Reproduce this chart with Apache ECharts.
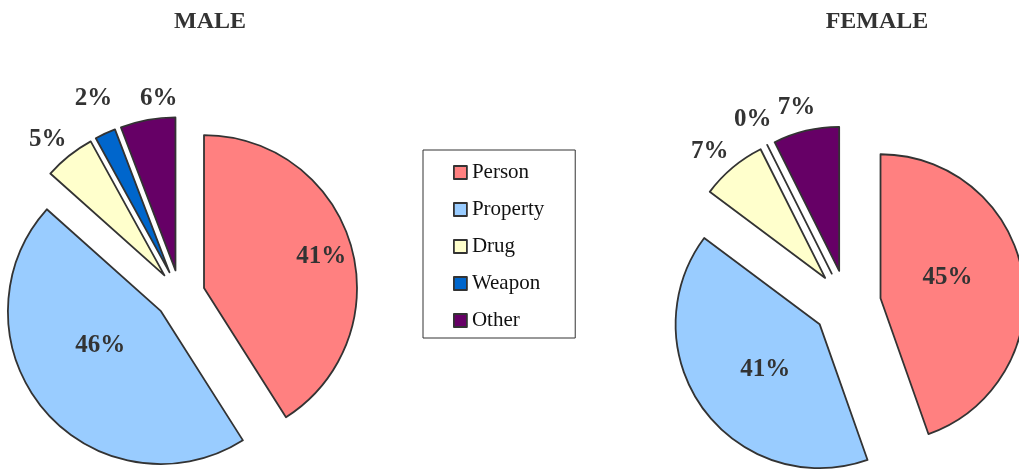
<!DOCTYPE html>
<html>
<head>
<meta charset="utf-8">
<script src="https://cdn.jsdelivr.net/npm/echarts@6/dist/echarts.min.js"></script>
<style>
html,body{margin:0;padding:0;background:#fff;}
#chart{width:1019px;height:472px;}
</style>
</head>
<body>
<div id="chart"></div>
<script>
const categories = ['Person', 'Property', 'Drug', 'Weapon', 'Other'];
const maleValues = [41, 45.6, 5.4, 2.2, 5.8];
const femaleValues = [44.6, 40.6, 7.4, 0, 7.4];
const colors = ['#FF8080', '#99CCFF', '#FFFFCC', '#0066CC', '#660066'];
const titles = ['MALE', 'FEMALE'];

const FONT = '"Liberation Serif", "Times New Roman", serif';
const SMALL = 10; // slices under this share get their label outside

function makeSeries(name, values, center, r, offset, shifts) {
  return {
    type: 'pie', name: name, center: center, radius: [0, r],
    startAngle: 90, clockwise: true, animation: false,
    selectedMode: 'multiple', selectedOffset: offset,
    avoidLabelOverlap: false,
    emphasis: { disabled: true },
    itemStyle: { borderColor: '#333', borderWidth: 1.8 },
    label: {
      show: true, position: 'inside',
      formatter: p => Math.round(p.value) + '%',
      fontFamily: FONT, fontSize: 25, fontWeight: 'bold', color: '#333',
      distanceToLabelLine: 0
    },
    labelLine: { show: false, length: 28, length2: 0 },
    labelLayout: p => {
      const s = shifts[p.dataIndex] || [0, 0];
      return { align: 'center', verticalAlign: 'middle', dx: s[0], dy: s[1] };
    },
    data: categories.map((c, i) => ({
      name: c, value: values[i], selected: true,
      itemStyle: { color: colors[i] },
      label: { position: values[i] < SMALL ? 'outside' : 'inside' }
    }))
  };
}

const chart = echarts.init(document.getElementById('chart'), null, { renderer: 'canvas' });
chart.setOption({
  backgroundColor: '#fff',
  color: colors,
  title: [
    { text: titles[0], left: 205, top: 5, textAlign: 'center',
      textStyle: { fontFamily: FONT, fontSize: 24, fontWeight: 'bold', color: '#333' } },
    { text: titles[1], left: 872, top: 5, textAlign: 'center',
      textStyle: { fontFamily: FONT, fontSize: 24, fontWeight: 'bold', color: '#333' } }
  ],
  legend: {
    data: categories, orient: 'vertical', left: 423, top: 150,
    padding: [12, 31, 7, 30], itemGap: 16, itemWidth: 13, itemHeight: 13,
    icon: 'rect', borderColor: '#333', borderWidth: 1,
    selectedMode: false,
    itemStyle: { borderColor: '#333', borderWidth: 1.8 },
    textStyle: { fontFamily: FONT, fontSize: 21, color: '#111' }
  },
  series: [
    makeSeries('Male', maleValues, [180, 295], 153, 25,
      [[41, -9], [0, -17], [-4, 6], [0, -10], [16, 6]]),
    makeSeries('Female', femaleValues, [847, 304], 144, 34,
      [[-7, -8], [6, 1], [-5, 5], [-2, 0], [-3, 4]])
  ]
});
</script>
</body>
</html>
